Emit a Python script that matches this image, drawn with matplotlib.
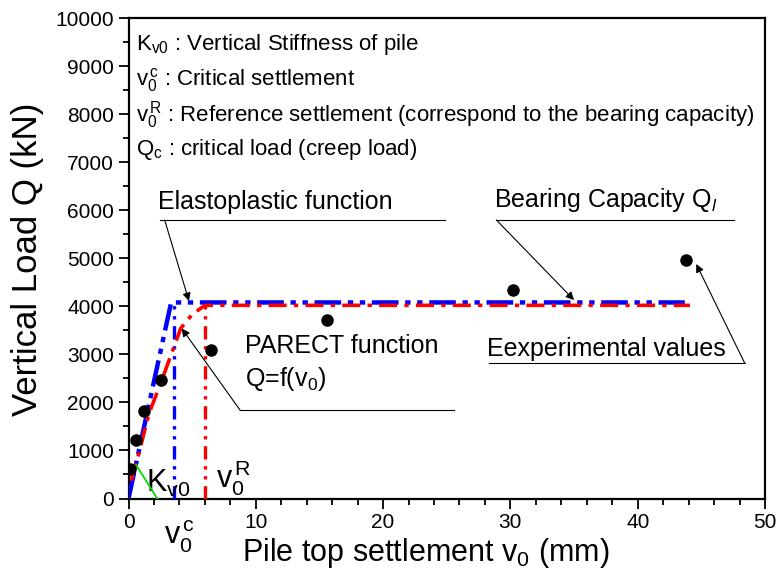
import matplotlib
matplotlib.use("Agg")
import matplotlib.pyplot as plt

FONT = "Liberation Sans"
plt.rcParams['font.family'] = [FONT, 'DejaVu Sans']
plt.rcParams['mathtext.fontset'] = 'custom'
plt.rcParams['mathtext.rm'] = FONT
plt.rcParams['mathtext.it'] = FONT + ':italic'
plt.rcParams['mathtext.default'] = 'rm'

# Data
exp_x = [0.15, 0.55, 1.25, 2.55, 6.5, 15.6, 30.2, 43.8]
exp_y = [620, 1225, 1830, 2470, 3095, 3715, 4345, 4965]

elasto_x = [0, 3.35, 43.7]
elasto_y = [0, 4080, 4080]

parect_x = [0.2, 0.6, 1.6, 2.6, 4.1, 5.0, 6.0, 44.1]
parect_y = [370, 720, 1760, 2450, 3540, 3830, 4020, 4020]

v0c = 3.55
v0R = 6.0
kv_x = [0.6, 2.25]
kv_y = [700, 0]

fig = plt.figure(figsize=(7.78, 5.81), dpi=100)
L, R, T, B = 128.5, 765, 18, 498.5
ax = fig.add_axes([L/778, 1-B/581, (R-L)/778, (B-T)/581])

ax.plot(elasto_x, elasto_y, color='#0000ff', lw=3.2, ls=(0, (6, 1.5, 1.2, 1.5, 1.2, 1.5)), zorder=3)
ax.plot(parect_x, parect_y, color='#ff0000', lw=2.6, ls=(0, (5, 2, 1.2, 2)), zorder=4)
ax.plot([v0c, v0c], [0, elasto_y[1]], color='#0000ff', lw=2.4, ls=(0, (4, 2, 1, 2, 1, 2)), zorder=3)
ax.plot([v0R, v0R], [0, parect_y[-1]], color='#ff0000', lw=2.4, ls=(0, (4, 2, 1, 2, 1, 2)), zorder=3)
ax.plot(kv_x, kv_y, color='#00dd00', lw=1.3, zorder=5)
ax.plot(exp_x, exp_y, 'o', color='black', ms=8, zorder=6)

ax.set_xlim(0, 50)
ax.set_ylim(0, 10000)
ax.set_xticks(range(0, 51, 10))
ax.set_xticks(range(0, 51, 2), minor=True)
ax.set_yticks(range(0, 10001, 1000))
ax.set_yticks(range(0, 10001, 500), minor=True)
ax.tick_params(which='both', direction='out', top=False, right=False, width=1.3, labelsize=15)
ax.tick_params(which='major', length=7)
ax.tick_params(which='minor', length=4)
for s in ax.spines.values():
    s.set_linewidth(1.6)

fig.text(426/778, 1-553/581, r'Pile top settlement v$_0$ (mm)', fontsize=22, ha='center', va='center')
fig.text(28/778, 1-259/581, 'Vertical Load Q (kN)', fontsize=25, ha='center', va='center', rotation=90)

# Definitions text
fs = 16
deftexts = [r'K$_{v0}$ : Vertical Stiffness of pile',
            r'v$_0^{\,c}$ : Critical settlement',
            r'v$_0^{\,R}$ : Reference settlement (correspond to the bearing capacity)',
            r'Q$_c$ : critical load (creep load)']
for i, t in enumerate(deftexts):
    ax.text(0.55, 9450 - i * 730, t, fontsize=fs, va='center', ha='left')

AFS = 18
arrow = dict(arrowstyle='-|>', color='black', lw=0.8, mutation_scale=12, shrinkA=0, shrinkB=0)
# Elastoplastic
ax.text(2.3, 5930, 'Elastoplastic function', fontsize=AFS, va='bottom')
ax.plot([2.45, 24.9], [5796, 5796], color='black', lw=0.8)
ax.annotate('', xy=(4.75, 4110), xytext=(2.84, 5796), arrowprops=arrow)
# Bearing capacity
ax.text(28.7, 5930, r'Bearing Capacity Q$_{\mathit{l}}$', fontsize=AFS, va='bottom')
ax.plot([28.9, 47.6], [5796, 5796], color='black', lw=0.8)
ax.annotate('', xy=(35.0, 4130), xytext=(28.9, 5796), arrowprops=arrow)
# Experimental
ax.text(28.2, 2870, 'Eexperimental values', fontsize=AFS, va='bottom')
ax.plot([28.3, 48.4], [2820, 2820], color='black', lw=0.8)
ax.annotate('', xy=(44.6, 4880), xytext=(48.4, 2820), arrowprops=arrow)
# PARECT
ax.text(9.15, 2920, 'PARECT function', fontsize=AFS, va='bottom')
ax.text(9.15, 2200, r'Q=f(v$_0$)', fontsize=AFS, va='bottom')
ax.plot([8.76, 25.6], [1840, 1840], color='black', lw=0.8)
ax.annotate('', xy=(4.18, 3540), xytext=(8.76, 1840), arrowprops=arrow)

# Kv0, v0c, v0R labels
ax.text(1.35, 320, r'K$_{v0}$', fontsize=22, va='center')
ax.text(2.8, -790, r'v$_0^{\,c}$', fontsize=22, va='center', clip_on=False)
ax.text(6.9, 420, r'v$_0^{\,R}$', fontsize=22, va='center')

fig.savefig('out.png', dpi=100)
